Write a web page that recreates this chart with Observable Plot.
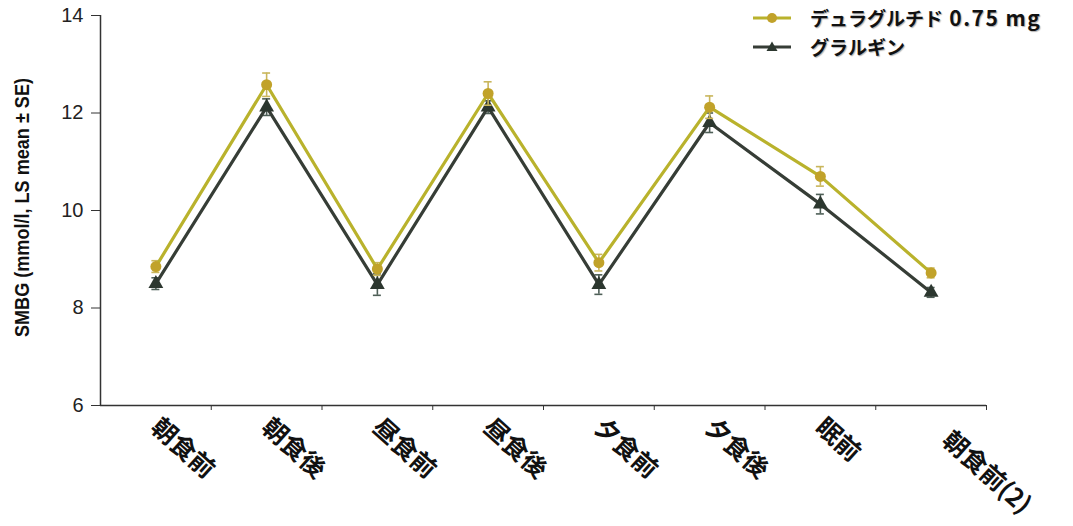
<!DOCTYPE html>
<html>
<head>
<meta charset="utf-8">
<script src="https://cdn.jsdelivr.net/npm/d3@7"></script>
<script src="https://cdn.jsdelivr.net/npm/@observablehq/plot@0.6"></script>
<style>
  html, body { margin: 0; padding: 0; background: #fff; }
  #wrap { position: relative; width: 1073px; height: 526px; overflow: hidden; }
  g[aria-label="xlab"] text { letter-spacing: 3px; text-shadow: 2px 2px 2px rgba(0,0,0,0.5); }
  #legend { position: absolute; left: 752px; top: 3px; font-family: "Noto Sans CJK JP", sans-serif; font-weight: 700; font-size: 19px; line-height: 20px; color: #111; }
  #legend .row { display: flex; align-items: center; height: 29px; line-height: 20px; text-shadow: 1px 1px 1px rgba(0,0,0,0.3); }
  #legend svg { margin-right: 18px; }
  #legend .num { letter-spacing: 1.5px; font-size: 21px; line-height: 20px; margin-left: 2px; }
</style>
</head>
<body>
<div id="wrap">
  <div id="legend"></div>
</div>
<script>
const categories = ["朝食前", "朝食後", "昼食前", "昼食後", "夕食前", "夕食後", "眠前", "朝食前(2)"];
const seriesNames = ["デュラグルチド 0.75 mg", "グラルギン"];
const dulaglutide = [8.85, 12.58, 8.80, 12.40, 8.93, 12.12, 10.70, 8.72];
const dulaglutideSE = [0.12, 0.24, 0.13, 0.24, 0.17, 0.23, 0.20, 0.10];
const glargine = [8.50, 12.12, 8.48, 12.12, 8.48, 11.80, 10.13, 8.32];
const glargineSE = [0.12, 0.17, 0.22, 0.13, 0.20, 0.20, 0.20, 0.10];
const yTicks = [6, 8, 10, 12, 14];
const yLabel = "SMBG (mmol/l, LS mean ± SE)";

const colors = {
  line: ["#b9b22c", "#363d36"],
  dot: ["#c1a22a", "#2c372f"],
  err: ["#c9b65c", "#4e5f57"]
};

const rows = [];
[dulaglutide, glargine].forEach((vals, s) => {
  const se = s === 0 ? dulaglutideSE : glargineSE;
  vals.forEach((v, i) => rows.push({series: seriesNames[s], s, cat: categories[i], x: i + 0.5, y: v, lo: v - se[i], hi: v + se[i]}));
});
const byS = s => rows.filter(d => d.s === s);
const capHalf = 0.036;

const layers = [];
for (const s of [1, 0]) {
  const d = byS(s);
  layers.push(
    Plot.ruleX(d, {x: "x", y1: "lo", y2: "hi", stroke: colors.err[s], strokeWidth: 1.6}),
    Plot.ruleY(d, {y: "hi", x1: r => r.x - capHalf, x2: r => r.x + capHalf, stroke: colors.err[s], strokeWidth: 1.6}),
    Plot.ruleY(d, {y: "lo", x1: r => r.x - capHalf, x2: r => r.x + capHalf, stroke: colors.err[s], strokeWidth: 1.6}),
    Plot.line(d, {x: "x", y: "y", stroke: colors.line[s], strokeWidth: 3.2}),
    Plot.dot(d, {x: "x", y: "y", r: 5.5, symbol: s === 0 ? "circle" : "triangle", fill: colors.dot[s], stroke: "none"})
  );
}

const labelRows = categories.map((c, i) => ({c, x: i + 0.5, last: i === categories.length - 1}));

const chart = Plot.plot({
  width: 1073,
  height: 526,
  marginLeft: 100,
  marginRight: 87,
  marginTop: 15,
  marginBottom: 121,
  style: {background: "transparent", overflow: "visible"},
  x: {domain: [0, 8], axis: null},
  y: {domain: [6, 14], axis: null},
  marks: [
    Plot.axisY({ticks: yTicks, tickSize: 9, tickPadding: 8, fontSize: 20, fontFamily: "Liberation Sans, Arial, sans-serif", stroke: "#333", color: "#222", label: null}),
    Plot.axisX({ticks: d3.range(1, 9), tickFormat: () => "", tickSize: 5, stroke: "#333", label: null}),
    Plot.ruleX([0], {y1: 6, y2: 14, stroke: "#333", strokeWidth: 1.5}),
    Plot.ruleY([6], {x1: 0, x2: 8, stroke: "#333", strokeWidth: 1.5}),
    Plot.text([yLabel], {frameAnchor: "left", dx: -78, dy: -3, rotate: -90, textAnchor: "middle", fontSize: 21, fontWeight: "bold", fontFamily: "Liberation Sans, Arial, sans-serif", fill: "#111"}),
    ...layers,
    Plot.text(labelRows.filter(d => !d.last), {x: "x", y: () => 6, text: "c", rotate: 42, textAnchor: "start", dy: 18, dx: -1, fontSize: 25, fontWeight: "bold", fontFamily: "Noto Sans CJK JP", fill: "#111", ariaLabel: "xlab"}),
    Plot.text(labelRows.filter(d => d.last), {x: "x", y: () => 6, text: "c", rotate: 42, textAnchor: "start", dy: 31, dx: 15, fontSize: 25, fontWeight: "bold", fontFamily: "Noto Sans CJK JP", fill: "#111", ariaLabel: "xlab"})
  ]
});
document.getElementById("wrap").appendChild(chart);

chart.querySelectorAll("text").forEach(t => {
  if (t.textContent === yLabel) {
    t.setAttribute("textLength", "259");
    t.setAttribute("lengthAdjust", "spacingAndGlyphs");
  }
});

const legend = document.getElementById("legend");
seriesNames.forEach((name, s) => {
  const row = document.createElement("div");
  row.className = "row";
  const marker = s === 0
    ? `<circle cx="20" cy="8" r="5" fill="${colors.dot[0]}"/>`
    : `<path d="M20,2.5 L25.5,12 L14.5,12 Z" fill="${colors.dot[1]}"/>`;
  const parts = name.split(" ");
  const label = parts.length > 1 ? `${parts[0]} <span class="num">${parts.slice(1).join(" ")}</span>` : name;
  row.innerHTML = `<svg width="40" height="16"><line x1="1" x2="39" y1="8" y2="8" stroke="${colors.line[s]}" stroke-width="3.2"/>${marker}</svg><span>${label}</span>`;
  legend.appendChild(row);
});
</script>
</body>
</html>
